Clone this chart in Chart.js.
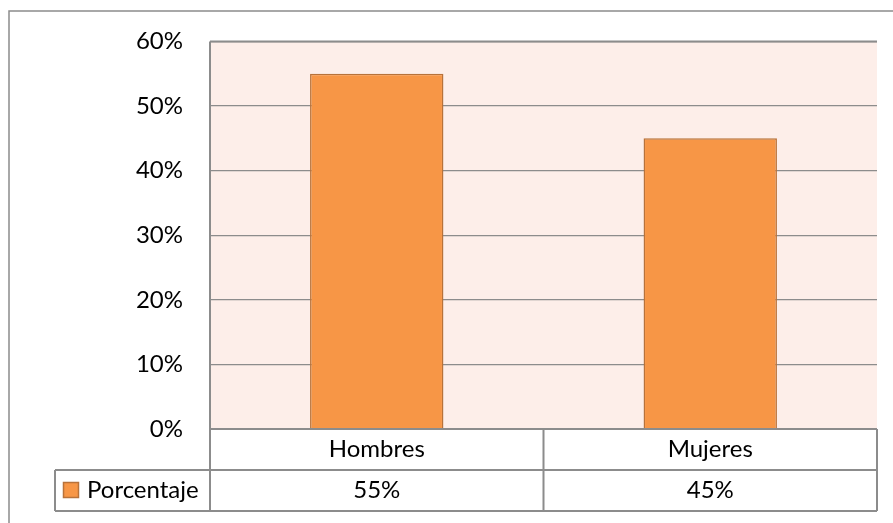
<!DOCTYPE html>
<html>
<head>
<meta charset="utf-8">
<script src="https://cdn.jsdelivr.net/npm/chart.js@4.4.0/dist/chart.umd.min.js"></script>
<style>
  html, body { margin:0; padding:0; background:#fff; }
  #wrap { width:893px; height:523px; }
</style>
</head>
<body>
<div id="wrap"><canvas id="c" width="893" height="523"></canvas></div>
<script>
const categories = ["Hombres", "Mujeres"];
const seriesName = "Porcentaje";
const values = [0.55, 0.45];
const yTicks = [0, 0.1, 0.2, 0.3, 0.4, 0.5, 0.6];

const FONT = "Lato";
const FS = 24;
const LINE = "#8c8c8c";
const BAR = "#F79646";
const BAR_BORDER = "#B8723A";
const PLOT_BG = "#FDEEE9";

const pct = v => Math.round(v * 100) + "%";

const framePlugin = {
  id: "frame",
  beforeDraw(chart) {
    const ctx = chart.ctx, a = chart.chartArea;
    ctx.save();
    ctx.fillStyle = "#fff";
    ctx.fillRect(0, 0, chart.width, chart.height);
    ctx.fillStyle = PLOT_BG;
    ctx.fillRect(a.left, a.top, a.right - a.left, a.bottom - a.top);
    ctx.restore();
  },
  afterDraw(chart) {
    const ctx = chart.ctx, a = chart.chartArea, xs = chart.scales.x;
    const row1Top = a.bottom, row1Bot = a.bottom + 41, row2Bot = a.bottom + 82;
    const legendLeft = 55;
    ctx.save();
    // outer chart border (top & left)
    ctx.strokeStyle = LINE;
    ctx.lineWidth = 1.5;
    ctx.beginPath();
    ctx.moveTo(9, chart.height); ctx.lineTo(9, 11); ctx.lineTo(chart.width, 11);
    ctx.stroke();
    // plot top/left borders
    ctx.lineWidth = 2;
    ctx.beginPath();
    ctx.moveTo(a.left, a.top); ctx.lineTo(a.right, a.top);
    ctx.moveTo(a.left, a.top); ctx.lineTo(a.left, row2Bot);
    ctx.stroke();
    // data table
    ctx.beginPath();
    ctx.moveTo(a.left, row1Top); ctx.lineTo(a.right, row1Top);
    ctx.moveTo(legendLeft, row1Bot); ctx.lineTo(a.right, row1Bot);
    ctx.moveTo(legendLeft, row2Bot); ctx.lineTo(a.right, row2Bot);
    ctx.moveTo(legendLeft, row1Bot); ctx.lineTo(legendLeft, row2Bot);
    ctx.moveTo(a.right, row1Top); ctx.lineTo(a.right, row2Bot);
    const n = categories.length;
    const step = (a.right - a.left) / n;
    for (let i = 1; i < n; i++) {
      const x = a.left + step * i;
      ctx.moveTo(x, row1Top); ctx.lineTo(x, row2Bot);
    }
    ctx.stroke();
    // texts
    ctx.fillStyle = "#000";
    ctx.font = FS + "px " + FONT;
    ctx.textAlign = "center";
    ctx.textBaseline = "alphabetic";
    categories.forEach((c, i) => {
      const cx = xs.getPixelForValue(i);
      ctx.fillText(c, cx, row1Top + 28);
      ctx.fillText(pct(values[i]), cx, row1Bot + 28);
    });
    // legend key
    const ky = (row1Bot + row2Bot) / 2 - 0.5;
    ctx.fillStyle = BAR;
    ctx.fillRect(63.5, ky - 7.5, 15, 15);
    ctx.strokeStyle = BAR_BORDER;
    ctx.lineWidth = 1.5;
    ctx.strokeRect(63.5, ky - 7.5, 15, 15);
    ctx.fillStyle = "#000";
    ctx.textAlign = "left";
    ctx.fillText(seriesName, 87, row1Bot + 28);
    ctx.restore();
  }
};

new Chart(document.getElementById("c"), {
  type: "bar",
  data: {
    labels: categories,
    datasets: [{
      label: seriesName,
      data: values,
      backgroundColor: BAR,
      borderColor: BAR_BORDER,
      borderWidth: 1.5,
      barPercentage: 0.4,
      categoryPercentage: 1.0
    }]
  },
  options: {
    responsive: false,
    animation: false,
    devicePixelRatio: 1,
    layout: { padding: { top: 41, right: 16, left: 0, bottom: 0 } },
    plugins: { legend: { display: false }, tooltip: { enabled: false } },
    scales: {
      x: {
        grid: { display: false },
        border: { display: false },
        ticks: { display: false },
        afterFit(s) { s.height = 94; }
      },
      y: {
        min: 0, max: 0.6,
        afterBuildTicks(s) { s.ticks = yTicks.map(v => ({ value: v })); },
        ticks: {
          padding: 27,
          color: "#000",
          font: { family: FONT, size: FS },
          callback: v => pct(v)
        },
        grid: { color: LINE, lineWidth: 1.3, drawTicks: false },
        border: { display: false },
        afterFit(s) { s.width = 210; }
      }
    }
  },
  plugins: [framePlugin]
});
</script>
</body>
</html>
